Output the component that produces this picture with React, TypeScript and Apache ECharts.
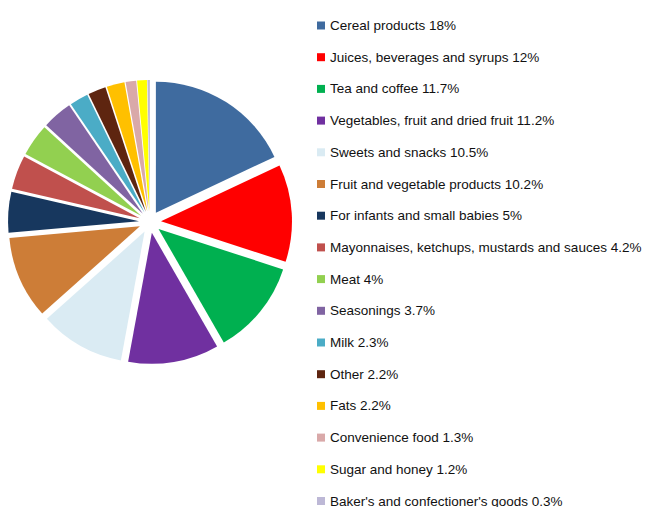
import React, { useEffect, useRef } from "react";
import * as echarts from "echarts";

const categories = [
  "Cereal products",
  "Juices, beverages and syrups",
  "Tea and coffee",
  "Vegetables, fruit and dried fruit",
  "Sweets and snacks",
  "Fruit and vegetable products",
  "For infants and small babies",
  "Mayonnaises, ketchups, mustards and sauces",
  "Meat",
  "Seasonings",
  "Milk",
  "Other",
  "Fats",
  "Convenience food",
  "Sugar and honey",
  "Baker's and confectioner's goods",
];

const shares = [18, 12, 11.7, 11.2, 10.5, 10.2, 5, 4.2, 4, 3.7, 2.3, 2.2, 2.2, 1.3, 1.2, 0.3];

const colors = [
  "#3F6B9F",
  "#FF0000",
  "#00B050",
  "#7030A0",
  "#DAEBF3",
  "#CD7D37",
  "#17375E",
  "#C0504D",
  "#92D050",
  "#8064A2",
  "#4BACC6",
  "#5E2510",
  "#FFC000",
  "#D9A9A9",
  "#FFFF00",
  "#BDB8D6",
];

export default function App() {
  const ref = useRef<HTMLDivElement>(null);
  useEffect(() => {
    if (!ref.current) return;
    const chart = echarts.init(ref.current, undefined, { renderer: "svg" });
    const data = categories.map((name, i) => ({
      name,
      value: shares[i],
      selected: true,
      itemStyle: { color: colors[i] },
    }));
    const valueOf: Record<string, number> = {};
    categories.forEach((c, i) => (valueOf[c] = shares[i]));
    chart.setOption({
      animation: false,
      backgroundColor: "#ffffff",
      legend: {
        orient: "vertical",
        left: 317,
        top: 18,
        height: 700,
        padding: 0,
        itemWidth: 8,
        itemHeight: 8,
        itemGap: 16.7,
        icon: "rect",
        selectedMode: false,
        formatter: (name: string) => `${name} ${valueOf[name]}%`,
        textStyle: {
          fontFamily: "Liberation Sans, Arial, sans-serif",
          fontSize: 13.5,
          color: "#111111",
          lineHeight: 15,
        },
        data: categories,
      },
      series: [
        {
          type: "pie",
          center: [150, 222],
          radius: [0, 131],
          startAngle: 90,
          clockwise: true,
          selectedMode: "multiple",
          selectedOffset: 11,
          label: { show: false },
          labelLine: { show: false },
          emphasis: { disabled: true },
          itemStyle: { borderWidth: 0 },
          data,
        },
      ],
    });
    return () => chart.dispose();
  }, []);
  return (
    <div
      ref={ref}
      style={{ position: "absolute", left: 0, top: 0, width: 651, height: 507 }}
    />
  );
}
